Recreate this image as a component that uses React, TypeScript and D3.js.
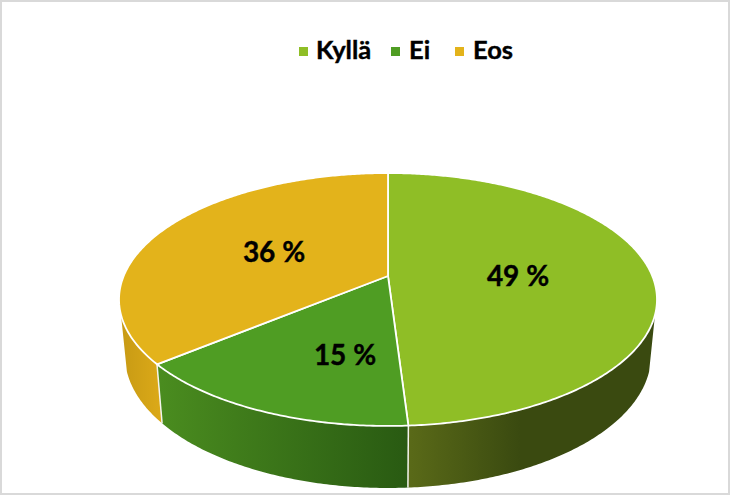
import React from "react";
import * as d3 from "d3";

const categories = ["Kyllä", "Ei", "Eos"];
const shares = [49, 15, 36];
const labels = ["49 %", "15 %", "36 %"];
const topColors = ["#8fbe26", "#4f9d23", "#e3b31b"];
const sideFrom = ["#5a6a18", "#4a8c1f", "#c79a14"];
const sideTo = ["#3a4a10", "#295a12", "#dba918"];
const sideSpan: [number, number][] = [[408, 520], [160, 408], [120, 160]];
const labelPos: [number, number][] = [[518, 276], [345, 355], [274, 252]];

const W = 731, H = 496;
const CX = 388, CY = 276;
const K = 0.1858, A = 264.3, B = 122.1;
const SX = 0.978, SY = 1.048, DROP = 54.8;
const VIS_L = (252.5 * Math.PI) / 180;
const VIS_R = (107.5 * Math.PI) / 180;

const topPt = (a: number): [number, number] => {
  const u = Math.sin(a), v = -Math.cos(a), w = 1 - K * v;
  return [CX + (A * u) / w, CY + (B * v) / w];
};
const botPt = (a: number): [number, number] => {
  const [x, y] = topPt(a);
  return [CX + (x - CX) * SX, CY + DROP + (y - CY) * SY];
};
const range = (a0: number, a1: number) => {
  const n = Math.max(2, Math.ceil(Math.abs(a1 - a0) / 0.01));
  return d3.range(n + 1).map((i) => a0 + ((a1 - a0) * i) / n);
};
const line = d3.line<[number, number]>();

export default function App() {
  const arcs = d3.pie<number>().sort(null)(shares);
  const legendX = [299, 391, 455];
  const legendTextX = [316, 409, 473];
  return (
    <svg
      width={W}
      height={H}
      viewBox={`0 0 ${W} ${H}`}
      style={{ position: "absolute", left: 0, top: 0, background: "#fff" }}
      fontFamily="Lato, sans-serif"
      fontWeight="bold"
    >
      <defs>
        {categories.map((c, i) => (
          <linearGradient key={c} id={`side${i}`} gradientUnits="userSpaceOnUse" x1={sideSpan[i][0]} x2={sideSpan[i][1]} y1={0} y2={0}>
            <stop offset="0" stopColor={sideFrom[i]} />
            <stop offset="1" stopColor={sideTo[i]} />
          </linearGradient>
        ))}
      </defs>
      <rect x={1} y={1} width={W - 3} height={H - 3} fill="#fff" stroke="#d9d9d9" strokeWidth={2} />
      {arcs.map((s, i) => {
        const a0 = Math.max(s.startAngle, VIS_R);
        const a1 = Math.min(s.endAngle, VIS_L);
        if (a1 <= a0) return null;
        const as = range(a0, a1);
        const pts = [...as.map(topPt), ...as.slice().reverse().map(botPt)];
        return <path key={i} d={line(pts) + "Z"} fill={`url(#side${i})`} />;
      })}
      {arcs.map((s, i) => {
        if (s.startAngle < VIS_R || s.startAngle > VIS_L) return null;
        return <path key={i} d={line([topPt(s.startAngle), botPt(s.startAngle)])!} stroke="#f4f4ee" strokeWidth={1.5} fill="none" />;
      })}
      {arcs.map((s, i) => {
        const pts: [number, number][] = [[CX, CY], ...range(s.startAngle, s.endAngle).map(topPt)];
        return <path key={i} d={line(pts) + "Z"} fill={topColors[i]} stroke="#fff" strokeWidth={1.8} strokeLinejoin="round" />;
      })}
      {labels.map((t, i) => (
        <text key={t} x={labelPos[i][0]} y={labelPos[i][1]} dy="0.36em" textAnchor="middle" fontSize={28} fill="#000" stroke="#000" strokeWidth={0.4}>
          {t}
        </text>
      ))}
      {categories.map((c, i) => (
        <g key={c}>
          <rect x={legendX[i]} y={47} width={9} height={9} fill={topColors[i]} />
          <text x={legendTextX[i]} y={59} fontSize={25.5} fill="#000" stroke="#000" strokeWidth={0.4}>{c}</text>
        </g>
      ))}
    </svg>
  );
}
